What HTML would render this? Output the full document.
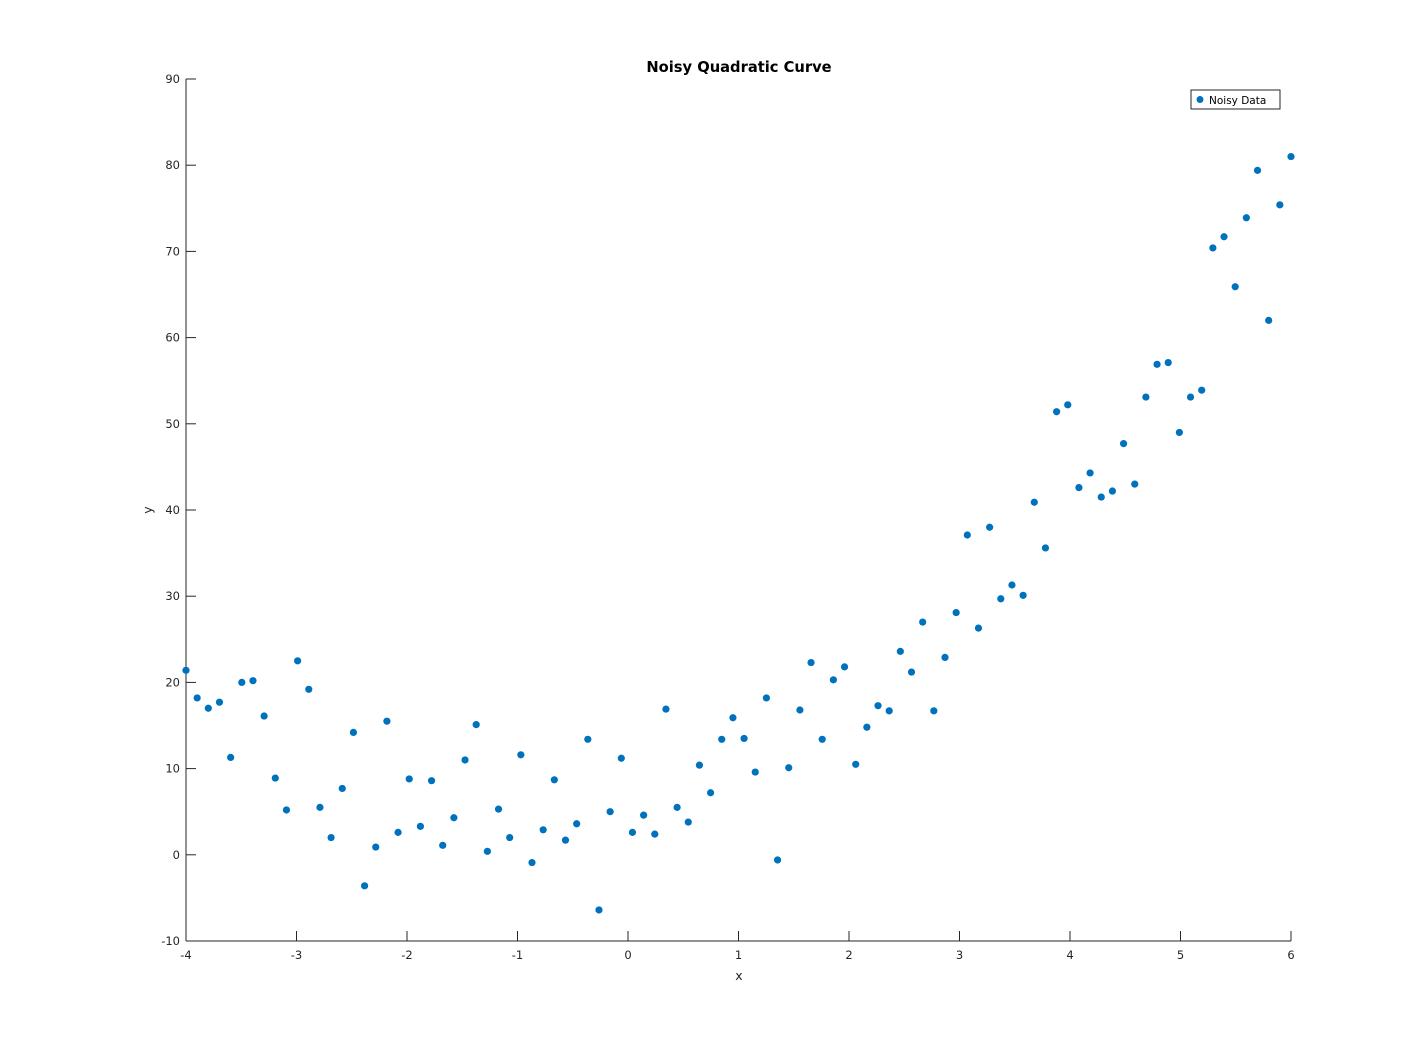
<!DOCTYPE html>
<html><head><meta charset="utf-8"><style>
html,body{margin:0;padding:0;background:#fff;}
svg{display:block;font-family:"DejaVu Sans","Liberation Sans",sans-serif;}
</style></head><body>
<svg id="chart" width="1427" height="1058">
<rect width="1427" height="1058" fill="#fff"/>
<text x="739" y="72" text-anchor="middle" font-size="14.7" font-weight="bold" fill="#000">Noisy Quadratic Curve</text>
<g id="axes"></g>
<g id="points"></g>
<g>
<rect x="1191" y="90" width="89" height="19" fill="#fff" stroke="#262626" stroke-width="1"/>
<circle cx="1200" cy="99.5" r="3.5" fill="#0072BD"/>
<text x="1209" y="104" font-size="10.5" fill="#000">Noisy Data</text>
</g>
<text x="739" y="980" text-anchor="middle" font-size="12.5" fill="#262626">x</text>
<text x="152" y="510" text-anchor="middle" font-size="12.5" fill="#262626" transform="rotate(-90 152 510)">y</text>
</svg>
<script>
const yValues=[21.4,18.2,17.0,17.7,11.3,20.0,20.2,16.1,8.9,5.2,22.5,19.2,5.5,2.0,7.7,14.2,-3.6,0.9,15.5,2.6,8.8,3.3,8.6,1.1,4.3,11.0,15.1,0.4,5.3,2.0,11.6,-0.9,2.9,8.7,1.7,3.6,13.4,-6.4,5.0,11.2,2.6,4.6,2.4,16.9,5.5,3.8,10.4,7.2,13.4,15.9,13.5,9.6,18.2,-0.6,10.1,16.8,22.3,13.4,20.3,21.8,10.5,14.8,17.3,16.7,23.6,21.2,27.0,16.7,22.9,28.1,37.1,26.3,38.0,29.7,31.3,30.1,40.9,35.6,51.4,52.2,42.6,44.3,41.5,42.2,47.7,43.0,53.1,56.9,57.1,49.0,53.1,53.9,70.4,71.7,65.9,73.9,79.4,62.0,75.4,81.0];
const xStart=-4, xEnd=6;
const xTicks=[-4,-3,-2,-1,0,1,2,3,4,5,6];
const yTicks=[-10,0,10,20,30,40,50,60,70,80,90];
const NS="http://www.w3.org/2000/svg";
const L=186,R=1291,T=79,B=941;
function sx(v){return L+(v-xStart)/(xEnd-xStart)*(R-L);}
function sy(v){return B-(v+10)/100*(B-T);}
function mk(tag,attrs,parent){const e=document.createElementNS(NS,tag);for(const k in attrs)e.setAttribute(k,attrs[k]);parent.appendChild(e);return e;}
const ax=document.getElementById('axes');
let l=mk('line',{x1:L,y1:T,x2:L,y2:B,stroke:'#262626'},ax);


l=mk('line',{x1:L,y1:B,x2:R,y2:B,stroke:'#262626'},ax);


xTicks.forEach(v=>{const x=sx(v);
 const t=mk('line',{x1:x,y1:B,x2:x,y2:B-10,stroke:'#262626'},ax);
 
 
 const tx=mk('text',{x:x,y:B+18,'text-anchor':'middle','font-size':11.5,fill:'#262626'},ax);tx.textContent=v;
 
 
});
yTicks.forEach(v=>{const y=sy(v);
 const t=mk('line',{x1:L,y1:y,x2:L+10,y2:y,stroke:'#262626'},ax);
 
 
 const tx=mk('text',{x:L-6,y:y+4,'text-anchor':'end','font-size':11.5,fill:'#262626'},ax);tx.textContent=v;
 
 
});
const pg=document.getElementById('points');
const n=yValues.length;
yValues.forEach((v,i)=>{const xv=xStart+i*(xEnd-xStart)/(n-1);
 const c=mk('circle',{cx:sx(xv),cy:sy(v),r:3.6,fill:'#0072BD'},pg);
 
 
});
</script>
</body></html>
